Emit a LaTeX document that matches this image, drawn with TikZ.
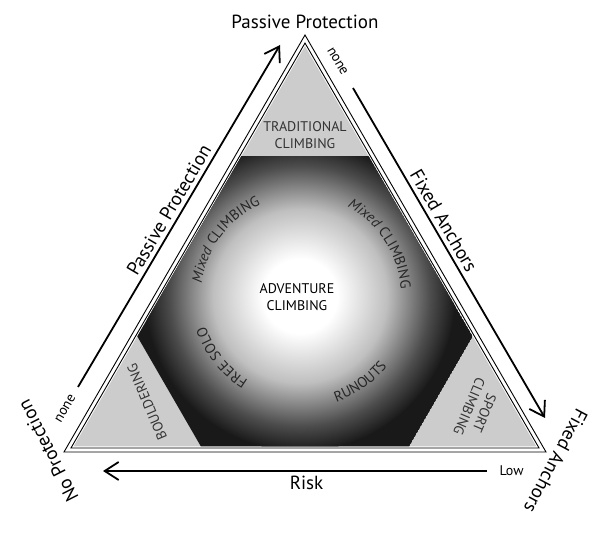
\documentclass[tikz,border=0pt]{standalone}
\usepackage{fontspec}
\setmainfont{PT Sans}
\usetikzlibrary{arrows.meta,calc,positioning,decorations.text}

\pgfdeclareradialshading{advglow}{\pgfpointorigin}{%
  color(0bp)=(white); color(6bp)=(white); color(14bp)=(black!25);
  color(21bp)=(black!70); color(25bp)=(black!90); color(50bp)=(black!90)}
\newcommand\arcfont{\fontsize{14.5}{16}\selectfont}

\begin{document}
\begin{tikzpicture}[x=1pt,y=1pt,
  frameline/.style={line width=0.9pt},
  axisarrow/.style={line width=1.8pt,-{Straight Barb[length=14pt,width=18pt]}},
  biglbl/.style={font=\fontsize{19}{22}\selectfont},
  smalllbl/.style={font=\fontsize{14}{16}\selectfont},
  zonelbl/.style={font=\fontsize{14}{16.5}\selectfont,align=center,text=black!80},
  arctext/.style={decorate,decoration={text along path,text align=center,text color=black!85}}]
\useasboundingbox (0,0) rectangle (600,536);
% triangle corners
\coordinate (A) at (305,501);
\coordinate (B) at (64,84);
\coordinate (C) at (546,84);
\coordinate (ctr) at (305,223);
\coordinate (glow) at (300,240);
\foreach \p in {A,B,C} {
  \coordinate (i\p) at ($(ctr)!0.971!(\p)$);
  \coordinate (f\p) at ($(ctr)!0.960!(\p)$);
}
% gray triangle
\fill[gray!40] (fA) -- (fB) -- (fC) -- cycle;
% double frame
\draw[frameline] (A) -- (B) -- (C) -- cycle;
\draw[frameline] (iA) -- (iB) -- (iC) -- cycle;
% adventure hexagon
\coordinate (h1) at ($(fA)!0.275!(fB)$);
\coordinate (h2) at ($(fB)!0.275!(fA)$);
\coordinate (h3) at ($(fB)!0.275!(fC)$);
\coordinate (h4) at ($(fC)!0.275!(fB)$);
\coordinate (h5) at ($(fC)!0.275!(fA)$);
\coordinate (h6) at ($(fA)!0.275!(fC)$);
\begin{scope}
  \clip (h1) -- (h2) -- (h3) -- (h4) -- (h5) -- (h6) -- cycle;
  \fill[black!90] (h1) -- (h2) -- (h3) -- (h4) -- (h5) -- (h6) -- cycle;
  \shade[shading=advglow] (glow) circle (155);
\end{scope}
% zone labels
\node[zonelbl] (trad) at (305,401) {TRADITIONAL\\CLIMBING};
\node[zonelbl,rotate=113] (bould) at (147,134) {BOULDERING};
\node[zonelbl,rotate=-113] (sport) at (477,126) {SPORT\\CLIMBING};
\node[zonelbl,text=black] (adv) at (297,239) {ADVENTURE\\CLIMBING};
% curved labels
\path[arctext,decoration={text={|\arcfont\itshape|Mixed |\arcfont\upshape|CLIMBING}}]
  ($(glow)+(190:99)$) arc[start angle=190,end angle=96,radius=99];
\path[arctext,decoration={text={|\arcfont\itshape|Mixed |\arcfont\upshape|CLIMBING}}]
  ($(glow)+(80:101)$) arc[start angle=80,end angle=-14,radius=101];
\path[arctext,decoration={text={|\arcfont|FREE SOLO}}]
  ($(glow)+(-97:99)$) arc[start angle=-97,end angle=-187,radius=99];
\path[arctext,decoration={text={|\arcfont|RUNOUTS}}]
  ($(glow)+(-100:112)$) arc[start angle=-100,end angle=-10,radius=112];
% axis arrows
\coordinate (ppS) at (78,149);
\coordinate (ppE) at (280,491);
\coordinate (faS) at (353,448);
\coordinate (faE) at (545,118);
\coordinate (rkS) at (487,65);
\coordinate (rkE) at (103,65);
\draw[axisarrow] (ppS) -- node[biglbl,sloped,above,pos=0.5,inner sep=4pt] (ppside) {Passive Protection}
  node[smalllbl,sloped,pos=0,anchor=east,inner xsep=9pt] (ppnone) {none} (ppE);
\draw[axisarrow] (faS) -- node[biglbl,sloped,above,pos=0.42,inner sep=4pt] (faside) {Fixed Anchors}
  node[smalllbl,sloped,pos=0,anchor=east,inner xsep=15pt] (fanone) {none} (faE);
\draw[axisarrow] (rkS) -- node[biglbl,below,pos=0.47,inner sep=4pt] (risk) {Risk} (rkE);
\node[smalllbl,right=9pt of rkS] (low) {Low};
% corner labels
\node[biglbl,above=3pt of A] (pptop) {Passive Protection};
\node[biglbl,rotate=117] (noprot) at ([shift={(-16,1)}]B) {No Protection};
\node[biglbl,rotate=-118] (fixanch) at ([shift={(10,-9)}]C) {Fixed Anchors};
\end{tikzpicture}
\end{document}
